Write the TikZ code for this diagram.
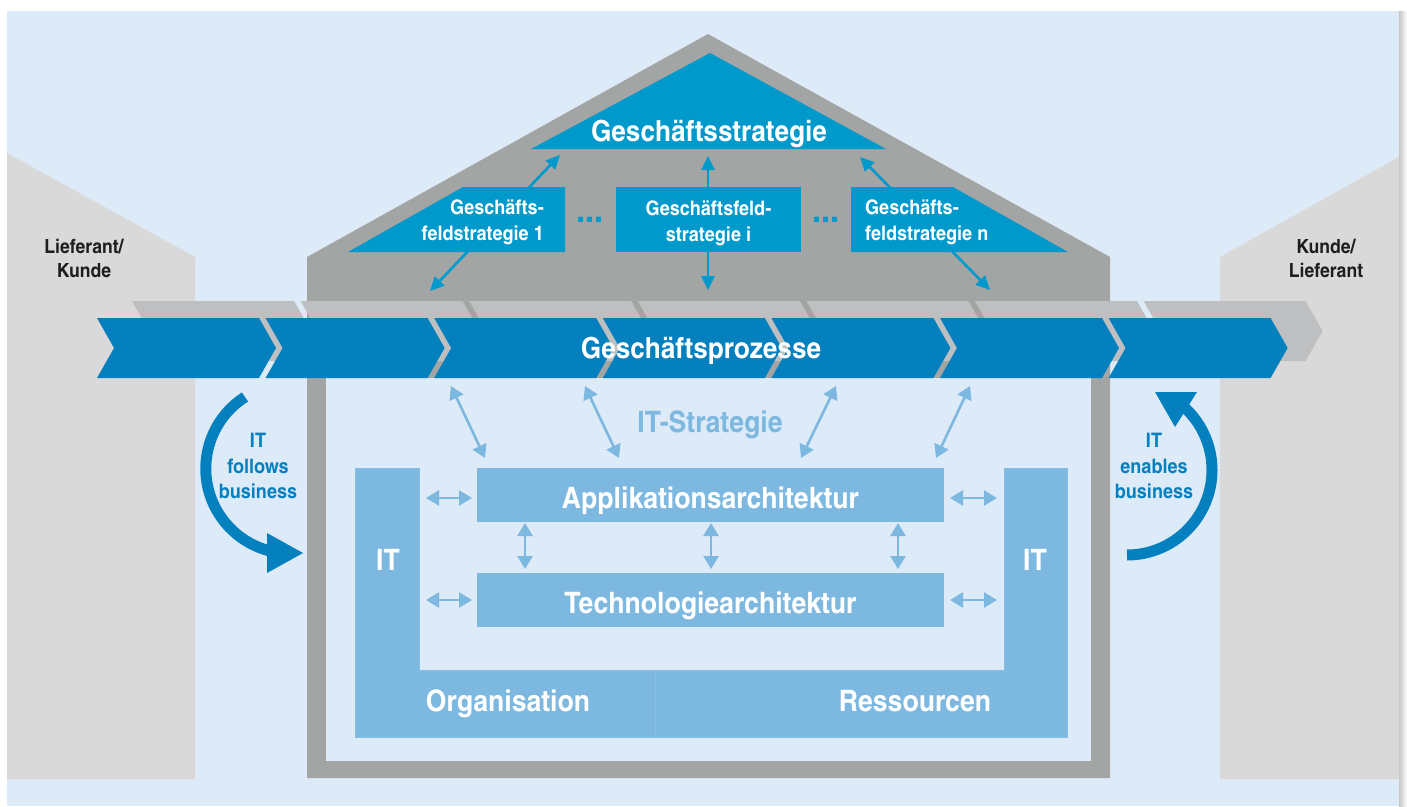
\documentclass[tikz,border=0pt]{standalone}
\usepackage{fontspec}
\setmainfont{TeX Gyre Heros Cn}[FakeStretch=1.1]
\usetikzlibrary{arrows.meta}
\definecolor{bgblue}{RGB}{221,234,247}
\definecolor{sidegray}{RGB}{217,217,217}
\definecolor{housegray}{RGB}{163,165,165}
\definecolor{chevgray}{RGB}{190,191,193}
\definecolor{chevblue}{RGB}{5,128,190}
\definecolor{stratblue}{RGB}{0,153,204}
\definecolor{itblue}{RGB}{125,184,224}
\definecolor{itedge}{RGB}{136,190,228}
\definecolor{darktext}{RGB}{30,30,30}
\tikzset{
  roofarrow/.style={draw=stratblue, line width=2.6pt, {Triangle[length=14pt,width=13pt]}-{Triangle[length=14pt,width=13pt]}},
  itarrow/.style={draw=itblue, line width=2.6pt, {Triangle[length=13pt,width=15pt]}-{Triangle[length=13pt,width=15pt]}},
  curvearrow/.style={draw=chevblue, line width=11pt},
  bigtext/.style={font=\fontsize{29.5}{29.5}\selectfont\bfseries, text=white, inner sep=0pt},
  strattext/.style={font=\fontsize{29}{29}\selectfont\bfseries, text=white, inner sep=0pt},
  boxtext/.style={font=\fontsize{20}{26}\selectfont\bfseries, text=white, inner sep=0pt},
  archbox/.style={fill=itblue, minimum width=467pt, minimum height=54pt, inner sep=0pt, text height=26pt, text depth=0pt, font=\fontsize{29.5}{29.5}\selectfont\bfseries, text=white},
  sidetext/.style={font=\fontsize{19.5}{24}\selectfont\bfseries, text=darktext, inner sep=0pt, align=center},
  curvetext/.style={font=\fontsize{20}{25.5}\selectfont\bfseries, text=chevblue, inner sep=0pt, align=center},
  dotstext/.style={font=\fontsize{36}{36}\selectfont\bfseries, text=stratblue, inner sep=0pt},
  ushape/.style={fill=itblue, draw=itedge, line width=0.6pt}
}
\begin{document}
\begin{tikzpicture}[x=1pt,y=-1pt]
\useasboundingbox (0,0) rectangle (1407,806);
% background
\fill[white] (0,0) rectangle (1407,806);
\fill[bgblue] (7,11) rectangle (1399,806);
\shade[left color=black!22, right color=white] (1399,11) rectangle (1407,806);
% side buildings
\fill[sidegray] (7,153) -- (195,257) -- (195,779) -- (7,779) -- cycle;
\fill[sidegray] (1399,157) -- (1220,257) -- (1220,779) -- (1399,779) -- cycle;
% house
\fill[housegray] (307,257) -- (708,34) -- (1110,257) -- (1110,778) -- (307,778) -- cycle;
\fill[bgblue] (326,378) rectangle (1091,761);
% roof arrows
\coordinate (p1) at (430,291); \coordinate (s1) at (560,155);
\coordinate (p2) at (708,290); \coordinate (s2) at (708,156);
\coordinate (p3) at (990,290); \coordinate (s3) at (860,157);
\draw[roofarrow] (p1) -- (s1);
\draw[roofarrow] (p2) -- (s2);
\draw[roofarrow] (p3) -- (s3);
% strategy triangle and boxes
\fill[stratblue] (531,149) -- (710,53) -- (886,149) -- cycle;
\node[strattext, anchor=base] (gs) at (709,141) {Geschäftsstrategie};
\fill[stratblue] (463,187) -- (565,187) -- (565,252) -- (348,252) -- cycle;
\node[boxtext, align=right, anchor=east] (bf1) at (544,222) {Geschäfts-\\feldstrategie 1};
\node[fill=stratblue, minimum width=185pt, minimum height=65pt, inner sep=0pt] (bfi) at (708.5,219.5) {};
\node[boxtext, align=center] (bfit) at (708.5,223) {Geschäftsfeld-\\strategie i};
\fill[stratblue] (851,187) -- (953,187) -- (1068,252) -- (851,252) -- cycle;
\node[boxtext, align=left, anchor=west] (bfn) at (865,222) {Geschäfts-\\feldstrategie n};
\node[dotstext, anchor=base] (d1) at (590,222) {...};
\node[dotstext, anchor=base] (d2) at (826,222) {...};
% gray process chevrons (behind)
\foreach \i in {0,...,6} {
  \pgfmathsetmacro\L{132+168.6*\i}
  \fill[chevgray] (\L,301) -- ++(162,0) -- ++(17,30) -- ++(-17,30) -- ++(-162,0) -- ++(17,-30) -- cycle;
}
% blue process chevrons
\foreach \i in {0,...,6} {
  \pgfmathsetmacro\L{97+168.6*\i}
  \fill[chevblue] (\L,318) -- ++(162,0) -- ++(17,30) -- ++(-17,30) -- ++(-162,0) -- ++(17,-30) -- cycle;
}
\node[strattext, anchor=base] (gp) at (701,358) {Geschäftsprozesse};
% IT strategy
\node[font=\fontsize{29.5}{29.5}\selectfont\bfseries, text=itblue, inner sep=0pt, anchor=base] (its) at (710,432) {IT-Strategie};
\coordinate (i1a) at (451,386); \coordinate (i1b) at (485,458);
\coordinate (i2a) at (585,386); \coordinate (i2b) at (619,458);
\coordinate (i3a) at (836,386); \coordinate (i3b) at (801,458);
\coordinate (i4a) at (970,386); \coordinate (i4b) at (936,458);
\draw[itarrow] (i1a) -- (i1b);
\draw[itarrow] (i2a) -- (i2b);
\draw[itarrow] (i3a) -- (i3b);
\draw[itarrow] (i4a) -- (i4b);
% U shape
\fill[ushape] (355,468) -- (419,468) -- (419,670) -- (655,670) -- (655,737) -- (355,737) -- cycle;
\fill[ushape] (1004,468) -- (1067,468) -- (1067,737) -- (655,737) -- (655,670) -- (1004,670) -- cycle;
\node[bigtext, anchor=base] (itl) at (388,570) {IT};
\node[bigtext, anchor=base] (itr) at (1035,570) {IT};
\node[bigtext, anchor=base] (org) at (508,711) {Organisation};
\node[bigtext, anchor=base] (res) at (915,711) {Ressourcen};
% architecture boxes
\node[archbox] (app) at (710.5,495) {Applikationsarchitektur};
\node[archbox] (tec) at (710.5,600) {Technologiearchitektur};
% small arrows
\coordinate (h1a) at (426,498); \coordinate (h1b) at (472,498);
\coordinate (h2a) at (426,600); \coordinate (h2b) at (472,600);
\coordinate (h3a) at (950,498); \coordinate (h3b) at (997,498);
\coordinate (h4a) at (950,600); \coordinate (h4b) at (997,600);
\draw[itarrow] (h1a) -- (h1b);
\draw[itarrow] (h2a) -- (h2b);
\draw[itarrow] (h3a) -- (h3b);
\draw[itarrow] (h4a) -- (h4b);
\coordinate (v1a) at (525,523); \coordinate (v1b) at (525,569);
\coordinate (v2a) at (711,523); \coordinate (v2b) at (711,569);
\coordinate (v3a) at (898,523); \coordinate (v3b) at (898,569);
\draw[itarrow] (v1a) -- (v1b);
\draw[itarrow] (v2a) -- (v2b);
\draw[itarrow] (v3a) -- (v3b);
% curved arrows
\coordinate (fa) at (245,397);
\draw[curvearrow] (fa) arc[start angle=237.4, end angle=90, radius=85];
\fill[chevblue] (267,533) -- (303,553) -- (267,573) -- cycle;
\coordinate (ea) at (1127,555);
\draw[curvearrow] (ea) arc[start angle=90, end angle=-50, radius=85];
\fill[chevblue] (1155,392) -- (1197,392) -- (1175,427) -- cycle;
\node[curvetext] (itf) at (258,466) {IT\\follows\\business};
\node[curvetext] (ite) at (1154,466) {IT\\enables\\business};
% side texts
\node[sidetext] (lk) at (84,258) {Lieferant/\\Kunde};
\node[sidetext] (kl) at (1326,258) {Kunde/\\Lieferant};
\end{tikzpicture}
\end{document}
